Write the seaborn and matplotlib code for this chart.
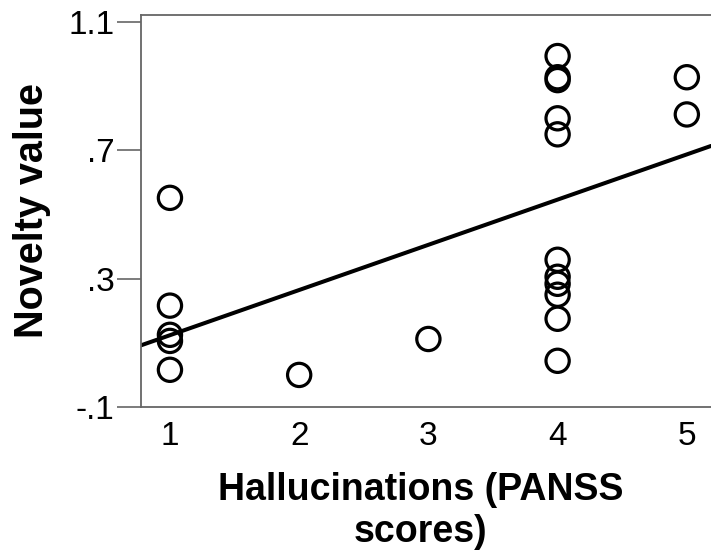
import matplotlib
matplotlib.use("Agg")
import matplotlib.pyplot as plt
import matplotlib.ticker as mticker
import seaborn as sns
import pandas as pd

# Hallucinations (PANSS) vs novelty value, one entry per subject
hallucinations = [1, 1, 1, 1, 1,
                  2,
                  3,
                  4, 4, 4, 4, 4, 4, 4, 4, 4, 4, 4,
                  5, 5]
novelty = [0.552, 0.216, 0.125, 0.106, 0.016,
           0.000,
           0.112,
           0.994, 0.928, 0.919, 0.800, 0.750, 0.359, 0.306, 0.284, 0.250, 0.175, 0.044,
           0.928, 0.812]

y_ticks = [-0.1, 0.3, 0.7, 1.1]
x_ticks = [1, 2, 3, 4, 5]


def fmt_y(v, pos):
    s = f"{v:.1f}"
    return s.replace("0.", ".")


def main():
    sns.set_theme(style="white")
    plt.rcParams['font.family'] = ['Liberation Sans', 'DejaVu Sans']
    plt.rcParams['text.color'] = 'black'
    plt.rcParams['axes.labelcolor'] = 'black'
    plt.rcParams['xtick.color'] = 'black'
    plt.rcParams['ytick.color'] = 'black'

    df = pd.DataFrame({'Hallucinations': hallucinations, 'Novelty': novelty})

    fig = plt.figure(figsize=(7.11, 5.57), dpi=100)
    ax = fig.add_axes([141 / 711, 1 - 407 / 557, 570 / 711, 392 / 557])
    ax.set_xlim(0.776, 5.187)
    ax.set_ylim(-0.1, 1.122)

    # linea de regresion sobre todo el eje (truncate=False)
    sns.regplot(
        data=df, x='Hallucinations', y='Novelty', ax=ax,
        ci=None, truncate=False,
        scatter_kws=dict(s=280, facecolors='none', edgecolors='black',
                         linewidths=2.3, alpha=1),
        line_kws=dict(color='black', lw=2.9),
    )

    ax.set_xticks(x_ticks)
    ax.set_yticks(y_ticks)
    ax.yaxis.set_major_formatter(mticker.FuncFormatter(fmt_y))
    ax.tick_params(axis='y', length=17, width=1.2, color='#666666', pad=2,
                   labelsize=24, left=True, labelcolor='black')
    ax.tick_params(axis='x', length=0, pad=10, labelsize=24, labelcolor='black')
    for side in ['left', 'top', 'bottom']:
        ax.spines[side].set_color('#666666')
        ax.spines[side].set_linewidth(1.3)
    ax.spines['right'].set_visible(False)

    ax.set_ylabel('Novelty value', fontsize=28.5, fontweight='bold', color='black')
    ax.yaxis.label.set_va('center')
    ax.yaxis.set_label_coords(-0.192, 0.5)

    ax.set_xlabel('Hallucinations (PANSS\nscores)', fontsize=27, fontweight='bold',
                  linespacing=1.2, color='black')
    ax.xaxis.label.set_va('top')
    ax.xaxis.set_label_coords(0.49, -0.166)

    fig.savefig("out.png", dpi=100)
    plt.close(fig)


if __name__ == "__main__":
    main()
